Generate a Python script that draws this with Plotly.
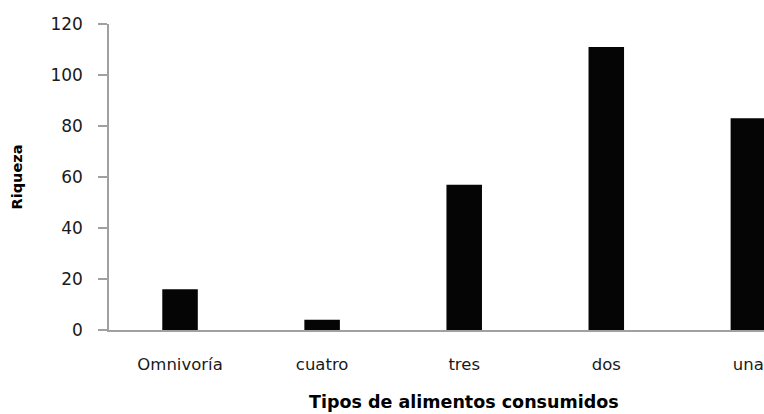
import plotly.graph_objects as go

categories = ["Omnivoría", "cuatro", "tres", "dos", "una"]
riqueza = [16, 4, 57, 111, 83]
y_ticks = [0, 20, 40, 60, 80, 100, 120]
x_title = "Tipos de alimentos consumidos"
y_title = "Riqueza"

fig = go.Figure(
    go.Bar(
        x=categories,
        y=riqueza,
        width=0.25,
        marker=dict(color="#050505", line=dict(width=0)),
        hoverinfo="skip",
    )
)

fig.update_layout(
    width=764,
    height=414,
    margin=dict(l=109, r=0, t=24, b=84),
    paper_bgcolor="white",
    plot_bgcolor="white",
    showlegend=False,
    font=dict(family="DejaVu Sans", size=16, color="#1a1a1a"),
)

fig.update_xaxes(
    type="category",
    range=[-0.5, 4.11],
    showline=True,
    linecolor="#a0a0a0",
    linewidth=1.5,
    ticks="",
    showgrid=False,
    tickfont=dict(family="DejaVu Sans", size=16.5, color="#1a1a1a"),
    ticklabelstandoff=18,
)

fig.add_annotation(
    text=x_title,
    xref="x",
    x=categories[2],
    yref="paper",
    y=0,
    yanchor="middle",
    yshift=-72,
    showarrow=False,
    font=dict(family="DejaVu Sans", size=17.5, color="#000000", weight="bold"),
)

fig.update_yaxes(
    range=[0, 120],
    tickvals=y_ticks,
    showline=True,
    linecolor="#a0a0a0",
    linewidth=1.5,
    ticks="outside",
    ticklen=9,
    tickwidth=1.5,
    tickcolor="#a0a0a0",
    showgrid=False,
    zeroline=False,
    tickfont=dict(family="DejaVu Sans", size=17, color="#1a1a1a"),
    ticklabelstandoff=12,
    title=dict(
        text=y_title,
        font=dict(family="DejaVu Sans", size=14.5, color="#000000", weight="bold"),
        standoff=24,
    ),
)

fig.write_html(
    "out.html",
    config={"displayModeBar": False},
    post_script="document.body.style.margin='0px';document.body.style.overflow='hidden';",
)
